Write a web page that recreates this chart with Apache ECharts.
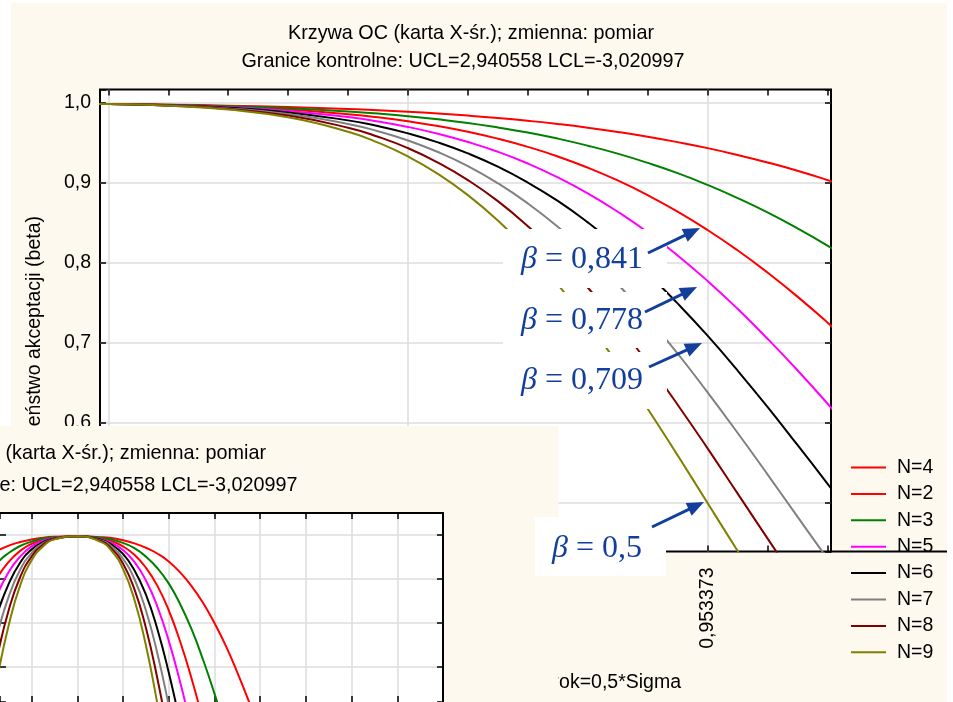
<!DOCTYPE html>
<html>
<head>
<meta charset="utf-8">
<title>Krzywa OC</title>
<script src="https://cdn.jsdelivr.net/npm/echarts@6/dist/echarts.min.js"></script>
<style>
    html, body { margin: 0; padding: 0; background: #ffffff; }
    #chart { width: 953px; height: 702px; }
</style>
</head>
<body>
<div id="chart"></div>
<script>
// --- data ---
// main chart: x in tick steps (10 steps = 0,953373), y = beta
var mainSteps = [-1, 0, 1, 2, 3, 4, 4.5, 5, 5.5, 6, 6.5, 7, 7.5, 8, 8.5, 9, 9.5, 10, 10.5, 11, 11.5, 12, 12.5, 13];
var mainN2 = [0.9987, 0.9987, 0.9979, 0.9967, 0.9950, 0.9925, 0.9910, 0.9891, 0.9869, 0.9843, 0.9813, 0.9778, 0.9738, 0.9692, 0.9639, 0.9579, 0.9511, 0.9436, 0.9351, 0.9257, 0.9153, 0.9037, 0.8911, 0.8774];
var mainN3 = [0.9987, 0.9987, 0.9977, 0.9960, 0.9934, 0.9895, 0.9868, 0.9836, 0.9797, 0.9751, 0.9695, 0.9631, 0.9555, 0.9467, 0.9367, 0.9252, 0.9123, 0.8976, 0.8812, 0.8632, 0.8433, 0.8217, 0.7981, 0.7728];
var mainN4 = [0.9987, 0.9987, 0.9974, 0.9953, 0.9918, 0.9861, 0.9821, 0.9772, 0.9713, 0.9641, 0.9554, 0.9452, 0.9332, 0.9192, 0.9032, 0.8849, 0.8643, 0.8413, 0.8159, 0.7881, 0.7580, 0.7257, 0.6915, 0.6554];
var mainN5 = [0.9987, 0.9987, 0.9973, 0.9947, 0.9901, 0.9824, 0.9769, 0.9701, 0.9616, 0.9513, 0.9391, 0.9244, 0.9071, 0.8871, 0.8641, 0.8384, 0.8095, 0.7776, 0.7428, 0.7054, 0.6660, 0.6244, 0.5812, 0.5371];
var mainN6 = [0.9987, 0.9987, 0.9971, 0.9940, 0.9882, 0.9783, 0.9712, 0.9621, 0.9508, 0.9370, 0.9204, 0.9006, 0.8776, 0.8508, 0.8207, 0.7870, 0.7495, 0.7092, 0.6657, 0.6202, 0.5726, 0.5243, 0.4753, 0.4270];
var mainN7 = [0.9987, 0.9987, 0.9969, 0.9933, 0.9863, 0.9739, 0.9648, 0.9532, 0.9388, 0.9212, 0.8997, 0.8745, 0.8452, 0.8114, 0.7737, 0.7320, 0.6869, 0.6383, 0.5878, 0.5359, 0.4829, 0.4305, 0.3794, 0.3300];
var mainN8 = [0.9987, 0.9987, 0.9967, 0.9925, 0.9843, 0.9692, 0.9579, 0.9436, 0.9256, 0.9037, 0.8774, 0.8461, 0.8103, 0.7694, 0.7244, 0.6751, 0.6229, 0.5683, 0.5120, 0.4558, 0.4001, 0.3468, 0.2960, 0.2492];
var mainN9 = [0.9987, 0.9987, 0.9965, 0.9918, 0.9821, 0.9641, 0.9505, 0.9332, 0.9115, 0.8849, 0.8531, 0.8159, 0.7734, 0.7257, 0.6736, 0.6179, 0.5596, 0.5000, 0.4404, 0.3821, 0.3264, 0.2743, 0.2266, 0.1841];

// inset chart: x in grid steps (Krok = 0,5*Sigma), y = beta
var insetSteps = [-2, -1.75, -1.5, -1.25, -1, -0.75, -0.5, 0, 0.5, 0.75, 1, 1.25, 1.5, 1.75, 2, 2.25, 2.5, 2.75, 3, 3.25, 3.5, 3.75, 4, 4.25, 4.5, 5];
var insetN2 = [0.948, 0.964, 0.976, 0.984, 0.990, 0.994, 0.996, 0.997, 0.995, 0.993, 0.988, 0.981, 0.971, 0.958, 0.940, 0.915, 0.884, 0.846, 0.800, 0.748, 0.688, 0.623, 0.554, 0.484, 0.414, 0.284];
var insetN3 = [0.905, 0.937, 0.959, 0.975, 0.985, 0.992, 0.995, 0.997, 0.994, 0.990, 0.982, 0.970, 0.951, 0.925, 0.890, 0.843, 0.786, 0.717, 0.640, 0.557, 0.471, 0.386, 0.306, 0.235, 0.174, 0.085];
var insetN4 = [0.853, 0.903, 0.939, 0.964, 0.980, 0.989, 0.994, 0.997, 0.993, 0.986, 0.974, 0.955, 0.926, 0.885, 0.829, 0.758, 0.674, 0.579, 0.480, 0.382, 0.291, 0.212, 0.147, 0.097, 0.061, 0.020];
var insetN5 = [0.794, 0.864, 0.916, 0.951, 0.974, 0.987, 0.993, 0.997, 0.991, 0.982, 0.966, 0.939, 0.897, 0.838, 0.760, 0.666, 0.559, 0.448, 0.341, 0.245, 0.166, 0.106, 0.063, 0.035, 0.018, 0.004];
var insetN6 = [0.730, 0.821, 0.889, 0.937, 0.967, 0.984, 0.992, 0.997, 0.990, 0.978, 0.957, 0.920, 0.865, 0.787, 0.688, 0.573, 0.451, 0.334, 0.231, 0.149, 0.089, 0.049, 0.025, 0.012, 0.005, 0.001];
var insetN7 = [0.663, 0.774, 0.860, 0.921, 0.959, 0.981, 0.991, 0.997, 0.988, 0.974, 0.946, 0.900, 0.829, 0.732, 0.613, 0.483, 0.354, 0.241, 0.150, 0.086, 0.045, 0.021, 0.010, 0.004, 0.002, 0.000];
var insetN8 = [0.596, 0.724, 0.829, 0.904, 0.951, 0.978, 0.991, 0.997, 0.987, 0.969, 0.935, 0.877, 0.790, 0.675, 0.540, 0.400, 0.272, 0.169, 0.095, 0.048, 0.022, 0.009, 0.003, 0.001, 0.000, 0.000];
var insetN9 = [0.530, 0.674, 0.795, 0.885, 0.942, 0.974, 0.990, 0.997, 0.985, 0.964, 0.923, 0.853, 0.750, 0.618, 0.470, 0.326, 0.205, 0.115, 0.058, 0.026, 0.010, 0.004, 0.001, 0.000, 0.000, 0.000];

var curveNames = ['N=4', 'N=2', 'N=3', 'N=5', 'N=6', 'N=7', 'N=8', 'N=9'];
var curveColors = ['#ff0000', '#ff0000', '#008000', '#ff00ff', '#000000', '#808080', '#800000', '#808000'];
var mainCurves = [mainN4, mainN2, mainN3, mainN5, mainN6, mainN7, mainN8, mainN9];
var insetCurves = [insetN4, insetN2, insetN3, insetN5, insetN6, insetN7, insetN8, insetN9];

// tick labels
var xLabelSteps = [0, 5, 10];
var xLabelTexts = ['0', '0,476687', '0,953373'];

// annotations: beta values pointed at x = 0,953373
var betaTexts = ['0,841', '0,778', '0,709', '0,5'];

var titleLine1 = 'Krzywa OC (karta X-śr.); zmienna: pomiar';
var titleLine2 = 'Granice kontrolne: UCL=2,940558 LCL=-3,020997';

// --- styling ---
var font = '"Liberation Sans", Arial, sans-serif';
var serif = '"Liberation Serif", "Times New Roman", serif';
var cream = '#fdf9ef';
var blue = '#123f9c';
var gridGrey = '#dcdcdc';
var clear = 'rgba(0,0,0,0)';

var myChart = echarts.init(document.getElementById('chart'));

function tickAxis(extra) {
    var base = {
        type: 'value',
        axisLine: { show: false, onZero: false },
        axisTick: { show: true, inside: true, length: 6, lineStyle: { color: '#000', width: 1.5 } },
        axisLabel: { show: false },
        splitLine: { show: false }
    };
    return Object.assign(base, extra);
}

// arrow drawn as a line plus a filled head
function arrow(x1, y1, x2, y2) {
    var dx = x2 - x1, dy = y2 - y1, len = Math.sqrt(dx * dx + dy * dy);
    var ux = dx / len, uy = dy / len, hl = 17, hw = 7;
    var bx = x2 - ux * hl, by = y2 - uy * hl;
    return [
        { type: 'line', zlevel: 2, z: 5, shape: { x1: x1, y1: y1, x2: bx + ux * 3, y2: by + uy * 3 },
          style: { stroke: blue, lineWidth: 3 } },
        { type: 'polygon', zlevel: 2, z: 5,
          shape: { points: [[x2, y2], [bx - uy * hw, by + ux * hw], [bx + uy * hw, by - ux * hw]] },
          style: { fill: blue } }
    ];
}

function betaLabel(x, y, value) {
    return {
        type: 'text', zlevel: 2, z: 5, x: x, y: y,
        style: {
            text: '{b|β} = ' + value,
            fill: blue, fontFamily: serif, fontSize: 32,
            textAlign: 'left', textVerticalAlign: 'middle',
            rich: { b: { fontStyle: 'italic', fontFamily: serif, fontSize: 32, fill: blue } }
        }
    };
}

function whiteBox(x, y, w, h) {
    return { type: 'rect', zlevel: 2, z: 1, shape: { x: x, y: y, width: w, height: h }, style: { fill: '#ffffff' } };
}

var series = [];
curveNames.forEach(function (name, i) {
    series.push({
        name: name, type: 'line', xAxisIndex: 0, yAxisIndex: 0,
        data: mainSteps.map(function (s, j) { return [s, mainCurves[i][j]]; }),
        smooth: true, symbol: 'none', z: 3,
        lineStyle: { color: curveColors[i], width: 2 },
        itemStyle: { color: curveColors[i] }
    });
});
curveNames.forEach(function (name, i) {
    series.push({
        name: name, type: 'line', xAxisIndex: 2, yAxisIndex: 2, zlevel: 1,
        data: insetSteps.map(function (s, j) { return [s, insetCurves[i][j]]; }),
        smooth: true, symbol: 'none', z: 3,
        lineStyle: { color: curveColors[i], width: 2 },
        itemStyle: { color: curveColors[i] }
    });
});

var graphics = [
    // cream page panel
    { type: 'rect', zlevel: 0, z: -10, shape: { x: 11, y: 3, width: 936, height: 700 }, style: { fill: cream } },
    // main titles
    { type: 'text', zlevel: 0, x: 471, y: 34, style: { text: titleLine1, fontFamily: font, fontSize: 19.8, fill: '#000', textAlign: 'center', textVerticalAlign: 'middle' } },
    { type: 'text', zlevel: 0, x: 463, y: 62, style: { text: titleLine2, fontFamily: font, fontSize: 19.8, fill: '#000', textAlign: 'center', textVerticalAlign: 'middle' } },
    // y axis name
    { type: 'text', zlevel: 0, x: 35, y: 216, rotation: Math.PI / 2,
      style: { text: 'Prawdopodobieństwo akceptacji (beta)', fontFamily: font, fontSize: 19.5, fill: '#000', textAlign: 'right', textVerticalAlign: 'middle' } },
    // x axis name
    { type: 'text', zlevel: 0, x: 681, y: 683, style: { text: 'Krok=0,5*Sigma', fontFamily: font, fontSize: 19.5, fill: '#000', textAlign: 'right', textVerticalAlign: 'middle' } },
    // axis line running on to the legend
    { type: 'line', zlevel: 0, z: 5, shape: { x1: 830, y1: 551.5, x2: 947, y2: 551.5 }, style: { stroke: '#000', lineWidth: 2 } },
    // inset panel
    { type: 'rect', zlevel: 1, z: -10, shape: { x: -2, y: 426, width: 560.5, height: 280 }, style: { fill: cream } },
    { type: 'text', zlevel: 1, z: 1, x: 83, y: 454, style: { text: titleLine1, fontFamily: font, fontSize: 19.8, fill: '#000', textAlign: 'center', textVerticalAlign: 'middle' } },
    { type: 'text', zlevel: 1, z: 1, x: 76, y: 486, style: { text: titleLine2, fontFamily: font, fontSize: 19.8, fill: '#000', textAlign: 'center', textVerticalAlign: 'middle' } },
    // annotation boxes
    whiteBox(503, 229, 164, 59),
    whiteBox(503, 292, 164, 56),
    whiteBox(503, 352, 164, 57),
    whiteBox(535, 517, 131, 59),
    betaLabel(521, 260, betaTexts[0]),
    betaLabel(521, 321, betaTexts[1]),
    betaLabel(521, 381, betaTexts[2]),
    betaLabel(552, 549, betaTexts[3])
]
    .concat(arrow(648, 253, 700, 228))
    .concat(arrow(645, 312, 697, 287))
    .concat(arrow(649, 367, 702, 343))
    .concat(arrow(652, 527, 704, 502));

var option = {
    backgroundColor: '#ffffff',
    animation: false,
    textStyle: { fontFamily: font },
    legend: {
        data: curveNames,
        orient: 'vertical',
        left: 851, top: 457.5,
        padding: 0,
        icon: 'rect',
        itemWidth: 35, itemHeight: 2, itemGap: 6.4,
        textStyle: { fontFamily: font, fontSize: 19.5, color: '#000', padding: [0, 0, 0, 6] }
    },
    grid: [
        { left: 100, top: 89.5, width: 731, height: 462, show: true, backgroundColor: '#ffffff',
          borderColor: '#000', borderWidth: 2 },
        { left: 0, top: 513, width: 443, height: 189, show: true, backgroundColor: '#ffffff',
          borderWidth: 0, zlevel: 1 }
    ],
    xAxis: [
        tickAxis({ gridIndex: 0, position: 'bottom', min: -0.14, max: 12.06, splitNumber: 12,
            axisLabel: { show: true, rotate: 90, margin: 16, fontFamily: font, fontSize: 19.5, color: '#000',
                formatter: function (v) {
                    for (var i = 0; i < xLabelSteps.length; i++) {
                        if (Math.abs(v - xLabelSteps[i]) < 1e-6) return xLabelTexts[i];
                    }
                    return '';
                } },
            splitLine: { show: true, lineStyle: { color: [clear, gridGrey, clear, clear, clear], width: 1.5 } } }),
        tickAxis({ gridIndex: 0, position: 'top', min: -0.14, max: 12.06, splitNumber: 12 }),
        tickAxis({ gridIndex: 1, position: 'bottom', min: -1.69, max: 8, splitNumber: 10, zlevel: 1,
            splitLine: { show: true, showMinLine: false, showMaxLine: false, lineStyle: { color: gridGrey, width: 1.5 } } }),
        tickAxis({ gridIndex: 1, position: 'top', min: -1.69, max: 8, splitNumber: 10, zlevel: 1,
            axisLine: { show: true, onZero: false, lineStyle: { color: '#000', width: 2 } } })
    ],
    yAxis: [
        tickAxis({ gridIndex: 0, position: 'left', min: 0.4394, max: 1.0169, splitNumber: 6,
            axisLabel: { show: true, margin: 9, fontFamily: font, fontSize: 19.5, color: '#000',
                formatter: function (v) {
                    var t = v * 10;
                    if (Math.abs(t - Math.round(t)) > 1e-6) return '';
                    return v.toFixed(1).replace('.', ',');
                } },
            splitLine: { show: true, showMinLine: false, showMaxLine: false, lineStyle: { color: gridGrey, width: 1.5 } } }),
        tickAxis({ gridIndex: 0, position: 'right', min: 0.4394, max: 1.0169, splitNumber: 6 }),
        tickAxis({ gridIndex: 1, position: 'left', min: 0.6205, max: 1.05, splitNumber: 4, zlevel: 1,
            splitLine: { show: true, showMinLine: false, showMaxLine: false, lineStyle: { color: gridGrey, width: 1.5 } } }),
        tickAxis({ gridIndex: 1, position: 'right', min: 0.6205, max: 1.05, splitNumber: 4, zlevel: 1,
            axisLine: { show: true, onZero: false, lineStyle: { color: '#000', width: 2 } } })
    ],
    graphic: { elements: graphics },
    series: series
};

myChart.setOption(option);
window.addEventListener('resize', function () {
    myChart.resize();
});
</script>
</body>
</html>
